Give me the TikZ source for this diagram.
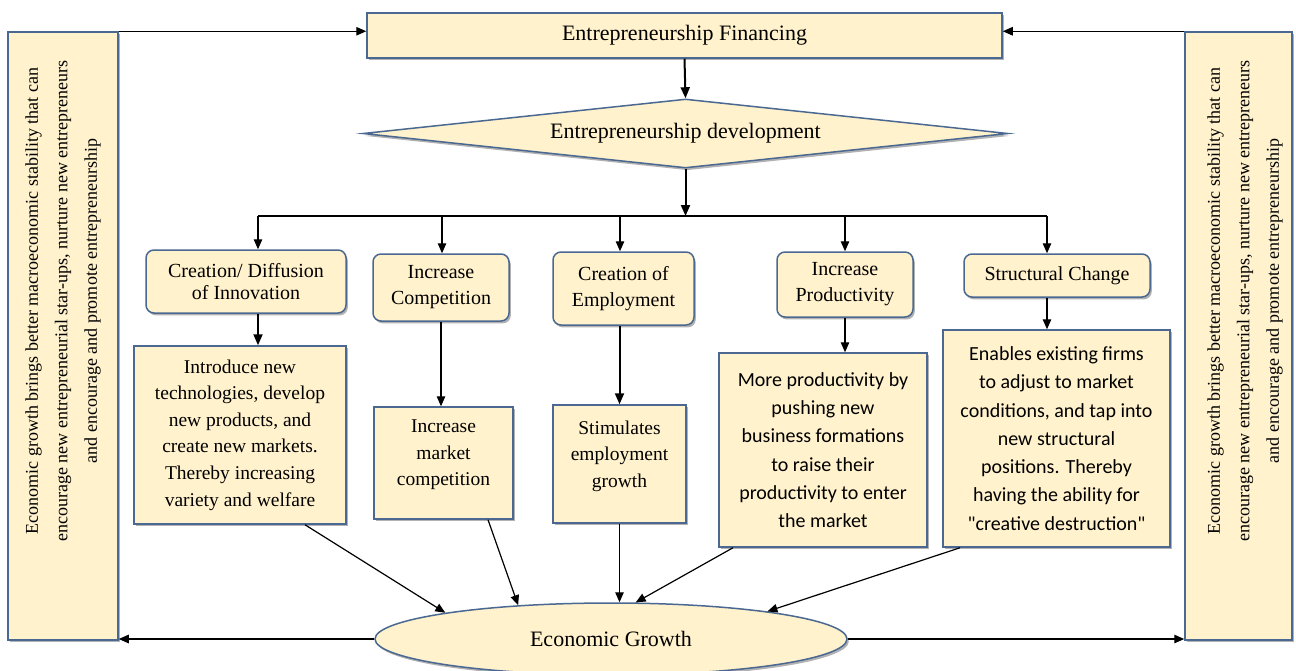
\documentclass[tikz,border=0pt]{standalone}
\usepackage{fontspec}
\setmainfont{Liberation Serif}
\newfontfamily\calibrifont{Carlito}
\usetikzlibrary{arrows.meta,shapes.geometric,shadows}

\definecolor{boxfill}{RGB}{255,242,204}
\definecolor{boxline}{RGB}{74,104,145}

\tikzset{
  cardbase/.style={draw=boxline, line width=1.5pt, fill=boxfill, inner sep=0pt,
    drop shadow={shadow xshift=1.8pt, shadow yshift=-2.4pt, fill=black!60}},
  headbox/.style={cardbase, rounded corners=8pt, align=center,
    font=\fontsize{20}{26}\selectfont},
  infobox/.style={cardbase, align=center, font=\fontsize{19.5}{26.6}\selectfont},
  sansbox/.style={cardbase, align=center, font=\calibrifont\fontsize{20}{28.3}\selectfont},
  sidetext/.style={rotate=90, align=center, font=\fontsize{18}{29.5}\selectfont},
  bigfont/.style={font=\fontsize{22}{26}\selectfont},
  flowarrow/.style={-{Triangle[length=11pt,width=9pt]}, line width=2pt},
  thinarrow/.style={-{Triangle[length=10pt,width=8.5pt]}, line width=1.2pt},
}

\begin{document}
\begin{tikzpicture}[x=1pt, y=-1pt]
    \useasboundingbox (0,0) rectangle (1296,670);

    % Financing on top, development diamond below it
    \node[cardbase, bigfont, minimum width=635pt, minimum height=45pt] (fin) at (684.5,35.5) {Entrepreneurship Financing};
    \node[cardbase, bigfont, diamond, aspect=9.35, minimum width=645pt, minimum height=69pt] (dev) at (685.5,133.5) {Entrepreneurship development};

    % Side boxes with the feedback text
    \node[cardbase, minimum width=110pt, minimum height=608pt] (leftbox) at (63,336) {};
    \node[sidetext] (lefttext) at (63,301) {Economic growth brings better macroeconomic stability that can\\encourage new entrepreneurial star-ups, nurture new entrepreneurs\\and encourage and promote entrepreneurship};
    \node[cardbase, minimum width=107pt, minimum height=608pt] (rightbox) at (1238.5,336) {};
    \node[sidetext] (righttext) at (1245,301) {Economic growth brings better macroeconomic stability that can\\encourage new entrepreneurial star-ups, nurture new entrepreneurs\\and encourage and promote entrepreneurship};

    % The five channels
    \node[headbox, font=\fontsize{20}{22}\selectfont, minimum width=200pt, minimum height=63pt] (b1) at (246,281.5) {Creation/ Diffusion\\of Innovation};
    \node[headbox, minimum width=136pt, minimum height=67pt] (b2) at (441,287.5) {Increase\\Competition};
    \node[headbox, minimum width=141pt, minimum height=73pt] (b3) at (623.5,288.5) {Creation of\\Employment};
    \node[headbox, minimum width=136pt, minimum height=65pt] (b4) at (845,284.5) {Increase\\Productivity};
    \node[headbox, minimum width=186pt, minimum height=43pt] (b5) at (1057,275.5) {Structural Change};

    % What each channel does
    \node[infobox, minimum width=212pt, minimum height=178pt] (l1) at (240,435) {Introduce new\\technologies, develop\\new products, and\\create new markets.\\Thereby increasing\\variety and welfare};
    \node[infobox, text depth=20pt, minimum width=139pt, minimum height=112pt] (l2) at (443.5,463) {Increase\\market\\competition};
    \node[infobox, text depth=20pt, minimum width=133pt, minimum height=118pt] (l3) at (619.5,464) {Stimulates\\employment\\growth};
    \node[sansbox, minimum width=208pt, minimum height=194pt] (l4) at (823,450) {More productivity by\\pushing new\\business formations\\to raise their\\productivity to enter\\the market};
    \node[sansbox, minimum width=227pt, minimum height=217pt] (l5) at (1056.5,438.5) {Enables existing firms\\to adjust to market\\conditions, and tap into\\new structural\\positions. Thereby\\having the ability for\\"creative destruction"};

    % Economic growth at the bottom
    \node[cardbase, bigfont, ellipse, minimum width=472pt, minimum height=72pt] (growth) at (611,639) {Economic Growth};

    % Top arrows
    \draw[thinarrow] (leftbox.north east) -- (leftbox.north east -| fin.west);
    \draw[thinarrow] (rightbox.north west) -- (rightbox.north west -| fin.east);
    \draw[flowarrow] (fin.south) -- (dev.north);

    % Branch line to the channels
    \coordinate (t1) at (258,216);
    \coordinate (t2) at (442,216);
    \coordinate (t3) at (620,216);
    \coordinate (t4) at (845,216);
    \coordinate (t5) at (1047,216);
    \draw[flowarrow] (dev.south) -- (dev.south |- t1);
    \draw[line width=1.2pt] (t1) -- (t5);
    \foreach \n in {1,...,5}
        \draw[thinarrow] (t\n) -- (t\n |- b\n.north);

    % Channel to its effect
    \draw[flowarrow] (t1 |- b1.south) -- (t1 |- l1.north);
    \draw[thinarrow] (b2.south) -- (b2.south |- l2.north);
    \draw[flowarrow] (l3.north |- b3.south) -- (l3.north);
    \draw[thinarrow] (b4.south) -- (b4.south |- l4.north);
    \draw[thinarrow] (t5 |- b5.south) -- (t5 |- l5.north);

    % Effects into growth
    \draw[thinarrow] ([xshift=65pt]l1.south) -- (growth.171.5);
    \draw[thinarrow] ([xshift=44.5pt]l2.south) -- (growth.160.6);
    \draw[thinarrow] (l3.south) -- (l3.south |- growth.north);
    \draw[thinarrow] ([xshift=-90pt]l4.south) -- (growth.56);
    \draw[thinarrow] ([xshift=-96.5pt]l5.south) -- (growth.10.4);

    % Growth feeds back to both sides
    \draw[thinarrow] (growth.west) -- (growth.west -| leftbox.east);
    \draw[thinarrow] (growth.east) -- (growth.east -| rightbox.west);
\end{tikzpicture}
\end{document}
